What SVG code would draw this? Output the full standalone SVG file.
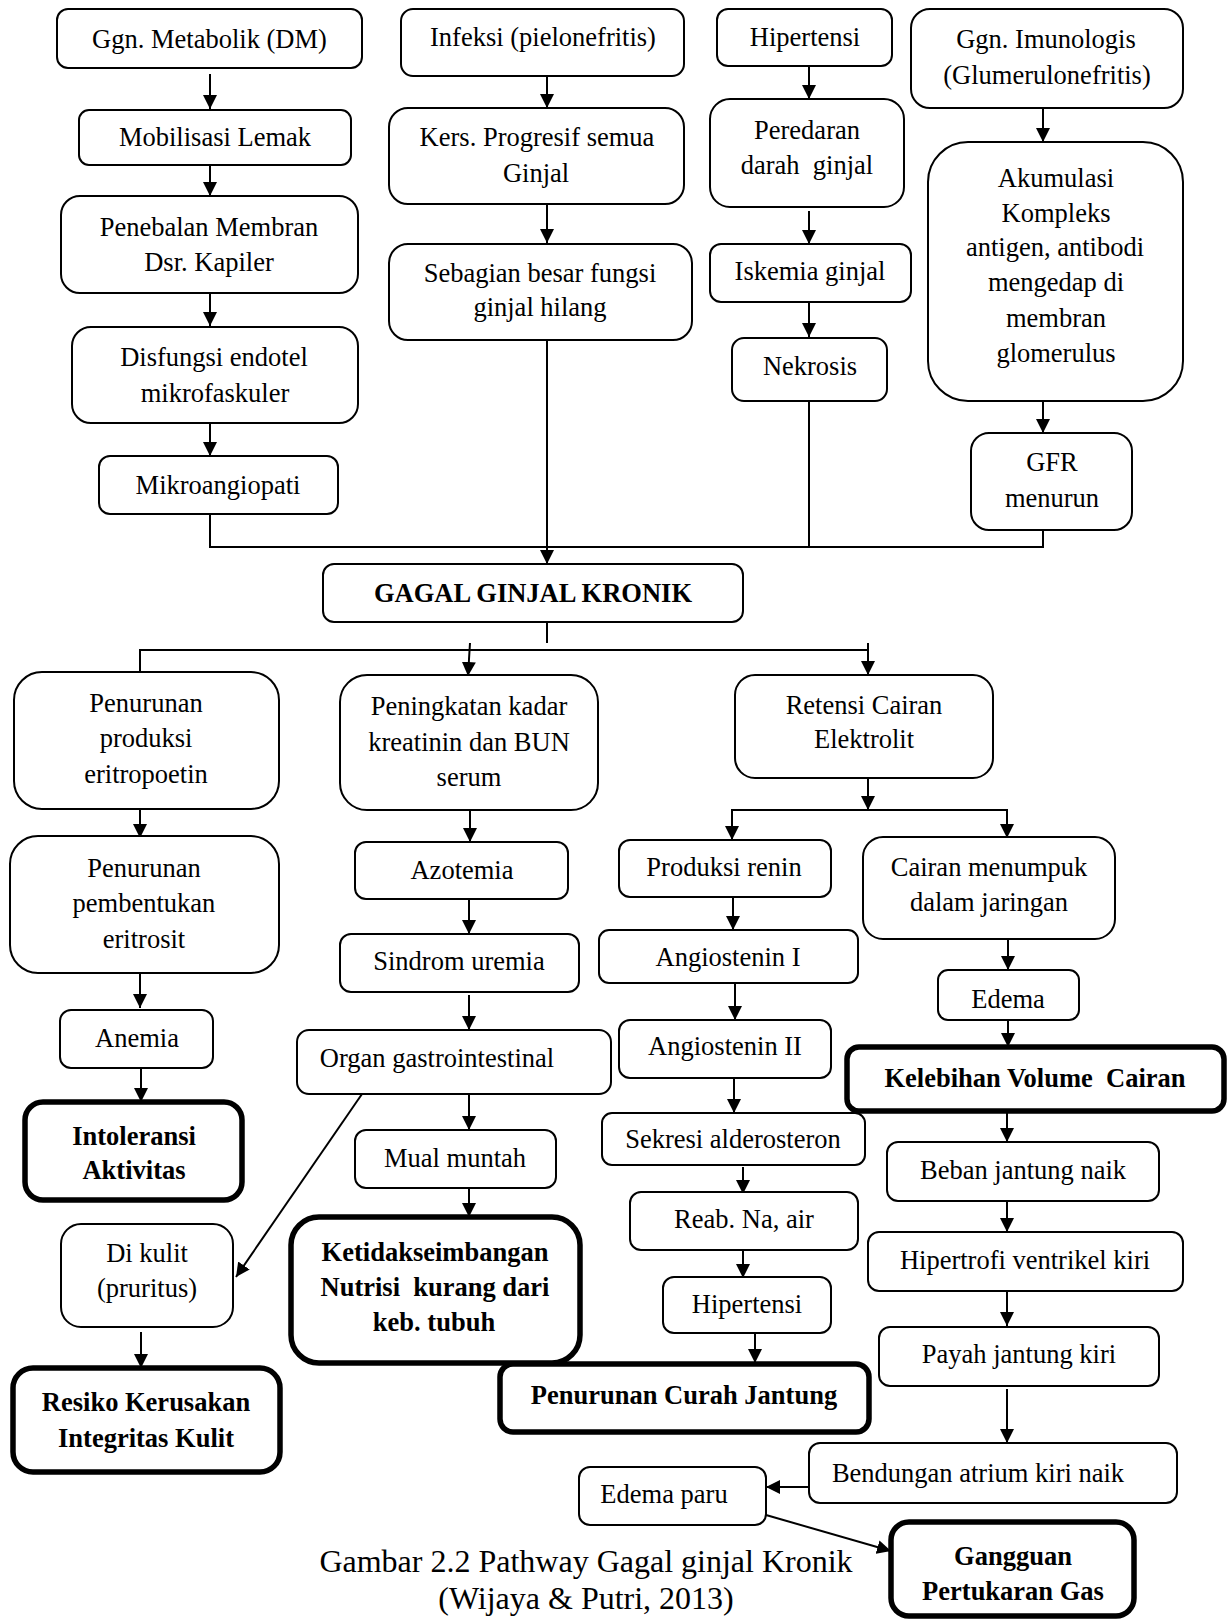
<svg xmlns="http://www.w3.org/2000/svg" width="1232" height="1619" viewBox="0 0 1232 1619">
<defs>
<marker id="ah" markerUnits="userSpaceOnUse" markerWidth="14" markerHeight="14" refX="14" refY="7" orient="auto">
<path d="M0,0 L14,7 L0,14 Z" fill="#000"/>
</marker>
<style>
.box{fill:#fff;stroke:#000;stroke-width:2}
.thick{stroke-width:5.5}
.t{font-family:"Liberation Serif","Times New Roman",serif;font-size:26.5px;text-anchor:middle;fill:#000}
.b{font-weight:bold}
.pre{white-space:pre}
.c{stroke:#000;stroke-width:2;fill:none}
.a{stroke:#000;stroke-width:2;fill:none;marker-end:url(#ah)}
.cap{font-family:"Liberation Serif","Times New Roman",serif;font-size:32px;text-anchor:middle;fill:#000}
</style>
</defs>
<rect width="1232" height="1619" fill="#fff"/>

<g id="connectors">
<line class="a" x1="210" y1="74" x2="210" y2="109"/>
<line class="a" x1="210" y1="165" x2="210" y2="196"/>
<line class="a" x1="210" y1="293" x2="210" y2="326"/>
<line class="a" x1="210" y1="423" x2="210" y2="456"/>
<polyline class="c" points="210,514 210,547 1043,547 1043,530"/>
<line class="c" x1="809" y1="401" x2="809" y2="547"/>
<line class="a" x1="547" y1="340" x2="547" y2="564"/>
<line class="a" x1="547" y1="76" x2="547" y2="108"/>
<line class="a" x1="547" y1="204" x2="547" y2="243"/>
<line class="a" x1="809" y1="66" x2="809" y2="99"/>
<line class="a" x1="809" y1="211" x2="809" y2="244"/>
<line class="a" x1="809" y1="298" x2="809" y2="337"/>
<line class="a" x1="1043" y1="108" x2="1043" y2="142"/>
<line class="a" x1="1043" y1="401" x2="1043" y2="433"/>
<line class="c" x1="547" y1="622" x2="547" y2="643"/>
<polyline class="c" points="140,672 140,650 868,650"/>
<line class="a" x1="470" y1="643" x2="468" y2="676"/>
<line class="a" x1="868" y1="643" x2="868" y2="675"/>
<line class="a" x1="140" y1="809" x2="140" y2="838"/>
<line class="a" x1="140" y1="973" x2="140" y2="1008"/>
<line class="a" x1="141" y1="1068" x2="141" y2="1102"/>
<line class="a" x1="362" y1="1094" x2="236" y2="1277"/>
<line class="a" x1="141" y1="1332" x2="141" y2="1368"/>
<line class="a" x1="470" y1="810" x2="470" y2="842"/>
<line class="a" x1="469" y1="899" x2="469" y2="934"/>
<line class="a" x1="469" y1="995" x2="469" y2="1030"/>
<line class="a" x1="459" y1="1048" x2="459" y2="1085"/>
<line class="a" x1="469" y1="1094" x2="469" y2="1130"/>
<line class="a" x1="469" y1="1188" x2="469" y2="1217"/>
<line class="a" x1="868" y1="778" x2="868" y2="810"/>
<polyline class="c" points="732,840 732,810 1007,810 1007,838"/>
<line class="a" x1="732" y1="810" x2="732" y2="840"/>
<line class="a" x1="1007" y1="810" x2="1007" y2="838"/>
<line class="a" x1="733" y1="897" x2="733" y2="930"/>
<line class="a" x1="735" y1="983" x2="735" y2="1020"/>
<line class="a" x1="734" y1="1078" x2="734" y2="1113"/>
<line class="a" x1="743" y1="1167" x2="743" y2="1194"/>
<line class="a" x1="743" y1="1245" x2="743" y2="1278"/>
<line class="a" x1="755" y1="1333" x2="755" y2="1363"/>
<line class="a" x1="1008" y1="939" x2="1008" y2="970"/>
<line class="a" x1="1008" y1="1020" x2="1008" y2="1047"/>
<line class="a" x1="1007" y1="1111" x2="1007" y2="1142"/>
<line class="a" x1="1007" y1="1201" x2="1007" y2="1232"/>
<line class="a" x1="1007" y1="1291" x2="1007" y2="1326"/>
<line class="a" x1="1007" y1="1389" x2="1007" y2="1443"/>
<line class="a" x1="809" y1="1487" x2="766" y2="1487"/>
<line class="a" x1="766" y1="1515" x2="891" y2="1551"/>
</g>

<g id="n1"><rect class="box" x="57" y="9" width="305" height="59" rx="11"/><text class="t" x="209.5" y="48">Ggn. Metabolik (DM)</text></g>
<g id="n2"><rect class="box" x="79" y="110" width="272" height="55" rx="10"/><text class="t" x="215" y="146">Mobilisasi Lemak</text></g>
<g id="n3"><rect class="box" x="61" y="196" width="297" height="97" rx="19"/><text class="t"><tspan x="209" y="236">Penebalan Membran</tspan><tspan x="209" y="271">Dsr. Kapiler</tspan></text></g>
<g id="n4"><rect class="box" x="72" y="327" width="286" height="96" rx="19"/><text class="t"><tspan x="214" y="366">Disfungsi endotel</tspan><tspan x="215" y="402">mikrofaskuler</tspan></text></g>
<g id="n5"><rect class="box" x="99" y="456" width="239" height="58" rx="11"/><text class="t" x="218" y="494">Mikroangiopati</text></g>
<g id="n6"><rect class="box" x="401" y="9" width="283" height="67" rx="12"/><text class="t" x="543" y="46">Infeksi (pielonefritis)</text></g>
<g id="n7"><rect class="box" x="389" y="108" width="295" height="96" rx="19"/><text class="t"><tspan x="537" y="146">Kers. Progresif semua</tspan><tspan x="536" y="182">Ginjal</tspan></text></g>
<g id="n8"><rect class="box" x="389" y="244" width="303" height="96" rx="19"/><text class="t"><tspan x="540" y="282">Sebagian besar fungsi</tspan><tspan x="540" y="316">ginjal hilang</tspan></text></g>
<g id="n9"><rect class="box" x="717" y="9" width="175" height="57" rx="11"/><text class="t" x="805" y="46">Hipertensi</text></g>
<g id="n10"><rect class="box" x="710" y="99" width="194" height="108" rx="20"/><text class="t pre"><tspan x="807" y="139">Peredaran</tspan><tspan x="807" y="174">darah  ginjal</tspan></text></g>
<g id="n11"><rect class="box" x="710" y="244" width="201" height="58" rx="11"/><text class="t" x="810" y="280">Iskemia ginjal</text></g>
<g id="n12"><rect class="box" x="732" y="338" width="155" height="63" rx="12"/><text class="t" x="810" y="375">Nekrosis</text></g>
<g id="n13"><rect class="box" x="911" y="9" width="272" height="99" rx="19"/><text class="t"><tspan x="1046" y="48">Ggn. Imunologis</tspan><tspan x="1047" y="84">(Glumerulonefritis)</tspan></text></g>
<g id="n14"><rect class="box" x="928" y="142" width="255" height="259" rx="40"/><text class="t"><tspan x="1056" y="187">Akumulasi</tspan><tspan x="1056" y="222">Kompleks</tspan><tspan x="1055" y="256">antigen, antibodi</tspan><tspan x="1056" y="291">mengedap di</tspan><tspan x="1056" y="327">membran</tspan><tspan x="1056" y="362">glomerulus</tspan></text></g>
<g id="n15"><rect class="box" x="971" y="433" width="161" height="97" rx="18"/><text class="t"><tspan x="1052" y="471">GFR</tspan><tspan x="1052" y="507">menurun</tspan></text></g>
<g id="n16"><rect class="box" x="323" y="564" width="420" height="58" rx="11"/><text class="t b" x="533" y="602">GAGAL GINJAL KRONIK</text></g>
<g id="n17"><rect class="box" x="14" y="672" width="265" height="137" rx="28"/><text class="t"><tspan x="146" y="712">Penurunan</tspan><tspan x="146" y="747">produksi</tspan><tspan x="146" y="783">eritropoetin</tspan></text></g>
<g id="n18"><rect class="box" x="10" y="836" width="269" height="137" rx="28"/><text class="t"><tspan x="144" y="877">Penurunan</tspan><tspan x="144" y="912">pembentukan</tspan><tspan x="144" y="948">eritrosit</tspan></text></g>
<g id="n19"><rect class="box" x="60" y="1010" width="153" height="58" rx="11"/><text class="t" x="137" y="1047">Anemia</text></g>
<g id="n20"><rect class="box thick" x="25" y="1102" width="217" height="98" rx="18"/><text class="t b"><tspan x="134" y="1145">Intoleransi</tspan><tspan x="134" y="1179">Aktivitas</tspan></text></g>
<g id="n21"><rect class="box" x="61" y="1224" width="172" height="103" rx="20"/><text class="t"><tspan x="147" y="1262">Di kulit</tspan><tspan x="147" y="1297">(pruritus)</tspan></text></g>
<g id="n22"><rect class="box thick" x="13" y="1368" width="267" height="104" rx="20"/><text class="t b"><tspan x="146" y="1411">Resiko Kerusakan</tspan><tspan x="146" y="1447">Integritas Kulit</tspan></text></g>
<g id="n23"><rect class="box" x="340" y="675" width="258" height="135" rx="27"/><text class="t"><tspan x="469" y="715">Peningkatan kadar</tspan><tspan x="469" y="751">kreatinin dan BUN</tspan><tspan x="469" y="786">serum</tspan></text></g>
<g id="n24"><rect class="box" x="355" y="842" width="213" height="57" rx="11"/><text class="t" x="462" y="879">Azotemia</text></g>
<g id="n25"><rect class="box" x="340" y="934" width="239" height="58" rx="11"/><text class="t" x="459" y="970">Sindrom uremia</text></g>
<g id="n26"><rect class="box" x="297" y="1030" width="314" height="64" rx="12"/><text class="t" x="437" y="1067">Organ gastrointestinal</text></g>
<g id="n27"><rect class="box" x="355" y="1130" width="201" height="58" rx="11"/><text class="t" x="455" y="1167">Mual muntah</text></g>
<g id="n28"><rect class="box thick" x="291" y="1217" width="289" height="146" rx="28"/><text class="t b pre"><tspan x="435" y="1261">Ketidakseimbangan</tspan><tspan x="435" y="1296">Nutrisi  kurang dari</tspan><tspan x="434" y="1331">keb. tubuh</tspan></text></g>
<g id="n29"><rect class="box" x="735" y="675" width="258" height="103" rx="20"/><text class="t"><tspan x="864" y="714">Retensi Cairan</tspan><tspan x="864" y="748">Elektrolit</tspan></text></g>
<g id="n30"><rect class="box" x="619" y="840" width="212" height="57" rx="11"/><text class="t" x="724" y="876">Produksi renin</text></g>
<g id="n31"><rect class="box" x="599" y="930" width="259" height="53" rx="10"/><text class="t" x="728" y="966">Angiostenin I</text></g>
<g id="n32"><rect class="box" x="619" y="1020" width="212" height="58" rx="11"/><text class="t" x="725" y="1055">Angiostenin II</text></g>
<g id="n33"><rect class="box" x="602" y="1113" width="263" height="52" rx="10"/><text class="t" x="733" y="1148">Sekresi alderosteron</text></g>
<g id="n34"><rect class="box" x="630" y="1192" width="228" height="58" rx="11"/><text class="t" x="744" y="1228">Reab. Na, air</text></g>
<g id="n35"><rect class="box" x="663" y="1277" width="168" height="56" rx="11"/><text class="t" x="747" y="1313">Hipertensi</text></g>
<g id="n36"><rect class="box thick" x="500" y="1364" width="369" height="68" rx="13"/><text class="t b" x="684" y="1404">Penurunan Curah Jantung</text></g>
<g id="n37"><rect class="box" x="863" y="837" width="252" height="102" rx="20"/><text class="t"><tspan x="989" y="876">Cairan menumpuk</tspan><tspan x="989" y="911">dalam jaringan</tspan></text></g>
<g id="n38"><rect class="box" x="938" y="970" width="141" height="50" rx="10"/><text class="t" x="1008" y="1008">Edema</text></g>
<g id="n39"><rect class="box thick" x="847" y="1047" width="377" height="64" rx="12"/><text class="t b pre" x="1035" y="1087">Kelebihan Volume  Cairan</text></g>
<g id="n40"><rect class="box" x="887" y="1142" width="272" height="59" rx="11"/><text class="t" x="1023" y="1179">Beban jantung naik</text></g>
<g id="n41"><rect class="box" x="868" y="1232" width="315" height="59" rx="11"/><text class="t" x="1025" y="1269">Hipertrofi ventrikel kiri</text></g>
<g id="n42"><rect class="box" x="879" y="1327" width="280" height="59" rx="11"/><text class="t" x="1019" y="1363">Payah jantung kiri</text></g>
<g id="n43"><rect class="box" x="809" y="1443" width="368" height="60" rx="11"/><text class="t" x="978" y="1482">Bendungan atrium kiri naik</text></g>
<g id="n44"><rect class="box" x="579" y="1467" width="187" height="58" rx="11"/><text class="t" x="664" y="1503">Edema paru</text></g>
<g id="n45"><rect class="box thick" x="891" y="1522" width="243" height="94" rx="18"/><text class="t b"><tspan x="1013" y="1565">Gangguan</tspan><tspan x="1013" y="1600">Pertukaran Gas</tspan></text></g>
<g id="caption"><text class="cap"><tspan x="586" y="1572">Gambar 2.2 Pathway Gagal ginjal Kronik</tspan><tspan x="586" y="1609">(Wijaya &amp; Putri, 2013)</tspan></text></g>
</svg>
